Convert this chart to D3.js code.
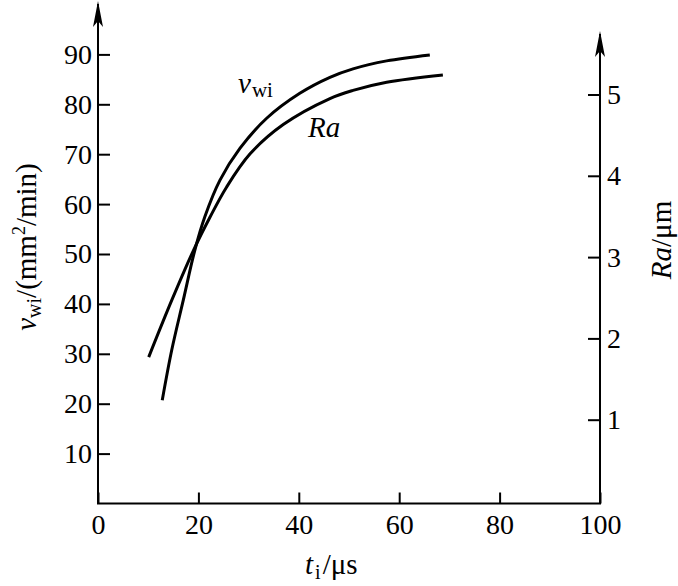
<!DOCTYPE html>
<html>
<head>
<meta charset="utf-8">
<script src="https://cdn.jsdelivr.net/npm/d3@7"></script>
<style>
  body { margin: 0; background: #fff; }
  svg text { font-family: "Liberation Serif", "Times New Roman", Times, serif; fill: #000; }
</style>
</head>
<body>
<div id="chart"></div>
<script>
// data
const tVwi = [12.8, 14.7, 17.0, 19.3, 21.3, 24.3, 28.3, 33.6, 40.2, 46.2, 50.8, 57.5, 66.1];
const vwi = [20.7, 30.8, 40.8, 50.8, 57.5, 64.8, 71.2, 77.2, 82.2, 85.4, 87.1, 88.7, 89.9];
const tRa = [10.1, 14.7, 19.0, 22.3, 25.6, 30.3, 36.9, 46.2, 50.8, 57.5, 68.7];
const ra = [1.77, 2.47, 3.08, 3.49, 3.86, 4.27, 4.63, 4.95, 5.05, 5.15, 5.24];

const xTicks = [0, 20, 40, 60, 80, 100];
const leftTicks = [10, 20, 30, 40, 50, 60, 70, 80, 90];
const rightTicks = [1, 2, 3, 4, 5];

const width = 678, height = 586;
const x0 = 98, x1 = 600, yBase = 503.5;
const serif = '"Liberation Serif", "Times New Roman", Times, serif';

const svg = d3.select("#chart").append("svg")
  .attr("width", width)
  .attr("height", height)
  .attr("font-family", serif);

// scales
const x = d3.scaleLinear().domain([0, 100]).range([x0, x1]);
const yL = d3.scaleLinear().domain([0, 90]).range([yBase, 54.4]);
const yR = d3.scaleLinear().domain([0, 5]).range([501, 94.5]);

// axes
const xAxis = d3.axisBottom(x).tickValues(xTicks).tickSizeInner(-11).tickSizeOuter(0).tickPadding(11);
const leftAxis = d3.axisLeft(yL).tickValues(leftTicks).tickSizeInner(-12).tickSizeOuter(0).tickPadding(6);
const rightAxis = d3.axisRight(yR).tickValues(rightTicks).tickFormat(d3.format("d"))
  .tickSizeInner(-12).tickSizeOuter(0).tickPadding(7);

function styleAxis(g) {
  g.attr("font-family", serif).attr("font-size", 28);
  g.select(".domain").remove();
  g.selectAll(".tick line").attr("stroke", "#000").attr("stroke-width", 2);
  g.selectAll(".tick text").attr("fill", "#000");
}

svg.append("g").attr("transform", `translate(0,${yBase})`).call(xAxis).call(styleAxis);
svg.append("g").attr("transform", `translate(${x0},0)`).call(leftAxis).call(styleAxis);
svg.append("g").attr("transform", `translate(${x1},0)`).call(rightAxis).call(styleAxis);

// axis lines with arrows
svg.append("path")
  .attr("d", `M${x0},4 L${x0},${yBase} L${x1},${yBase} L${x1},34`)
  .attr("fill", "none")
  .attr("stroke", "#000")
  .attr("stroke-width", 2);

function arrow(cx, tip) {
  svg.append("path")
    .attr("d", `M${cx},${tip} L${cx - 5},${tip + 26} L${cx},${tip + 20} L${cx + 5},${tip + 26} Z`)
    .attr("fill", "#000");
}
arrow(x0, 1);
arrow(x1, 31);

// curves
const line = d3.line().curve(d3.curveCatmullRom.alpha(0.5));

svg.append("path")
  .datum(tVwi.map((t, i) => [x(t), yL(vwi[i])]))
  .attr("d", line)
  .attr("fill", "none")
  .attr("stroke", "#000")
  .attr("stroke-width", 3);

svg.append("path")
  .datum(tRa.map((t, i) => [x(t), yR(ra[i])]))
  .attr("d", line)
  .attr("fill", "none")
  .attr("stroke", "#000")
  .attr("stroke-width", 3);

// curve labels
const lv = svg.append("text").attr("x", 238).attr("y", 93).attr("font-size", 29);
lv.append("tspan").attr("font-style", "italic").text("v");
lv.append("tspan").attr("dy", 4).attr("dx", 1).attr("font-size", 21).text("wi");

svg.append("text").attr("x", 308).attr("y", 137)
  .attr("font-size", 29).attr("font-style", "italic").text("Ra");

// x title
const xt = svg.append("text").attr("x", 305).attr("y", 574).attr("font-size", 29);
xt.append("tspan").attr("font-style", "italic").text("t");
xt.append("tspan").attr("dy", 5).attr("dx", 2).attr("font-size", 20).text("i");
xt.append("tspan").attr("dy", -5).attr("dx", 2).text("/μs");

// left title
const lt = svg.append("text")
  .attr("transform", "translate(36,247) rotate(-90)")
  .attr("text-anchor", "middle")
  .attr("font-size", 29);
lt.append("tspan").attr("font-style", "italic").text("v");
lt.append("tspan").attr("dy", 5).attr("font-size", 20).text("wi");
lt.append("tspan").attr("dy", -5).text("/(mm");
lt.append("tspan").attr("dy", -11).attr("font-size", 18).text("2");
lt.append("tspan").attr("dy", 11).text("/min)");

// right title
const rt = svg.append("text")
  .attr("transform", "translate(671,240) rotate(-90)")
  .attr("text-anchor", "middle")
  .attr("font-size", 29);
rt.append("tspan").attr("font-style", "italic").text("Ra");
rt.append("tspan").text("/μm");
</script>
</body>
</html>
